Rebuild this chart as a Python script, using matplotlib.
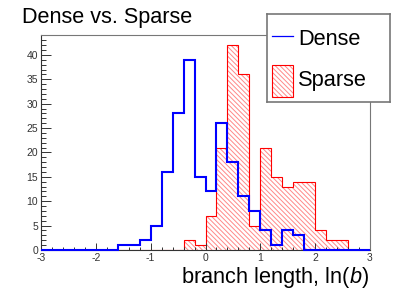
import numpy as np
import matplotlib
matplotlib.use("Agg")
from matplotlib import pyplot as plt
from matplotlib.patches import Rectangle
from matplotlib.ticker import MultipleLocator

plt.rcParams['font.family'] = ['Liberation Sans', 'DejaVu Sans']
plt.rcParams['mathtext.fontset'] = 'custom'
plt.rcParams['mathtext.rm'] = 'Liberation Sans'
plt.rcParams['mathtext.it'] = 'Liberation Sans:italic'
plt.rcParams['axes.unicode_minus'] = False
plt.rcParams['hatch.linewidth'] = 0.7

# histogram bins: 30 bins of width 0.2 in ln(b)
edges = np.linspace(-3, 3, 31)
dense = [0, 0, 0, 0, 0, 0, 0, 1, 1, 2, 5, 16, 28, 39, 15,
         12, 26, 18, 11, 8, 4, 1, 4, 3, 0, 0, 0, 0, 0, 0]
sparse = [0, 0, 0, 0, 0, 0, 0, 0, 0, 0, 0, 0, 0, 2, 1,
          7, 21, 42, 36, 5, 21, 15, 13, 14, 14, 4, 2, 2, 0, 0]
labels = ['Dense', 'Sparse']
title = 'Dense vs. Sparse'
xlabel = r'branch length, ln($\mathit{b}$)'

W, H = 411, 295
hatch = '\\' * 7
pink = '#ff8888'

fig = plt.figure(figsize=(W / 100, H / 100), dpi=100)
ax = fig.add_axes([41 / W, 1 - 250 / H, 329 / W, 215 / H])

# sparse: hatched fill + red outline
ax.stairs(sparse, edges, fill=True, facecolor='none', edgecolor=pink,
          hatch=hatch, linewidth=0, zorder=1)
ax.stairs(sparse, edges, color='red', linewidth=0.8, zorder=1.5)
# dense: blue step line on top
ax.stairs(dense, edges, color='blue', linewidth=1.5, zorder=3, clip_on=False)

ax.set_xlim(-3, 3)
ax.set_ylim(0, 1.05 * max(max(dense), max(sparse)))

ax.xaxis.set_major_locator(MultipleLocator(1))
ax.xaxis.set_minor_locator(MultipleLocator(0.2))
ax.yaxis.set_major_locator(MultipleLocator(5))
ax.yaxis.set_minor_locator(MultipleLocator(1))
ax.tick_params(axis='x', which='major', direction='in', length=4.7, width=0.7,
               labelsize=7.5, pad=2.5, colors='#333333')
ax.tick_params(axis='x', which='minor', direction='in', length=2.3, width=0.7,
               colors='#333333')
ax.tick_params(axis='y', which='major', direction='in', length=7, width=0.7,
               labelsize=7.5, pad=2, colors='#333333')
ax.tick_params(axis='y', which='minor', direction='in', length=3.5, width=0.7,
               colors='#333333')
for side in ['left', 'bottom']:
    ax.spines[side].set_color('#333333')
    ax.spines[side].set_linewidth(0.8)
for side in ['top', 'right']:
    ax.spines[side].set_color('#777777')
    ax.spines[side].set_linewidth(0.8)

fig.text(22 / W, 1 - 23 / H, title, fontsize=15.6, ha='left', va='baseline')
fig.text(369 / W, 1 - 283 / H, xlabel, fontsize=15.7, ha='right', va='baseline')

# legend box (pixel coordinates inside the box)
lax = fig.add_axes([267 / W, 1 - 102 / H, 123 / W, 88 / H])
lax.set_xlim(0, 123)
lax.set_ylim(88, 0)
lax.set_xticks([])
lax.set_yticks([])
for s in lax.spines.values():
    s.set_color('#777777')
    s.set_linewidth(1.2)
lax.plot([5, 26], [22, 22], color='blue', linewidth=0.9)
lax.add_patch(Rectangle((5, 51), 21, 32, facecolor='none', edgecolor=pink,
                        hatch=hatch, linewidth=0))
lax.add_patch(Rectangle((5, 51), 21, 32, facecolor='none', edgecolor='red',
                        linewidth=0.8))
lax.text(31, 31, labels[0], fontsize=15.7, va='baseline', ha='left')
lax.text(31, 72, labels[1], fontsize=15.7, va='baseline', ha='left')

fig.savefig('out.png', dpi=100)
